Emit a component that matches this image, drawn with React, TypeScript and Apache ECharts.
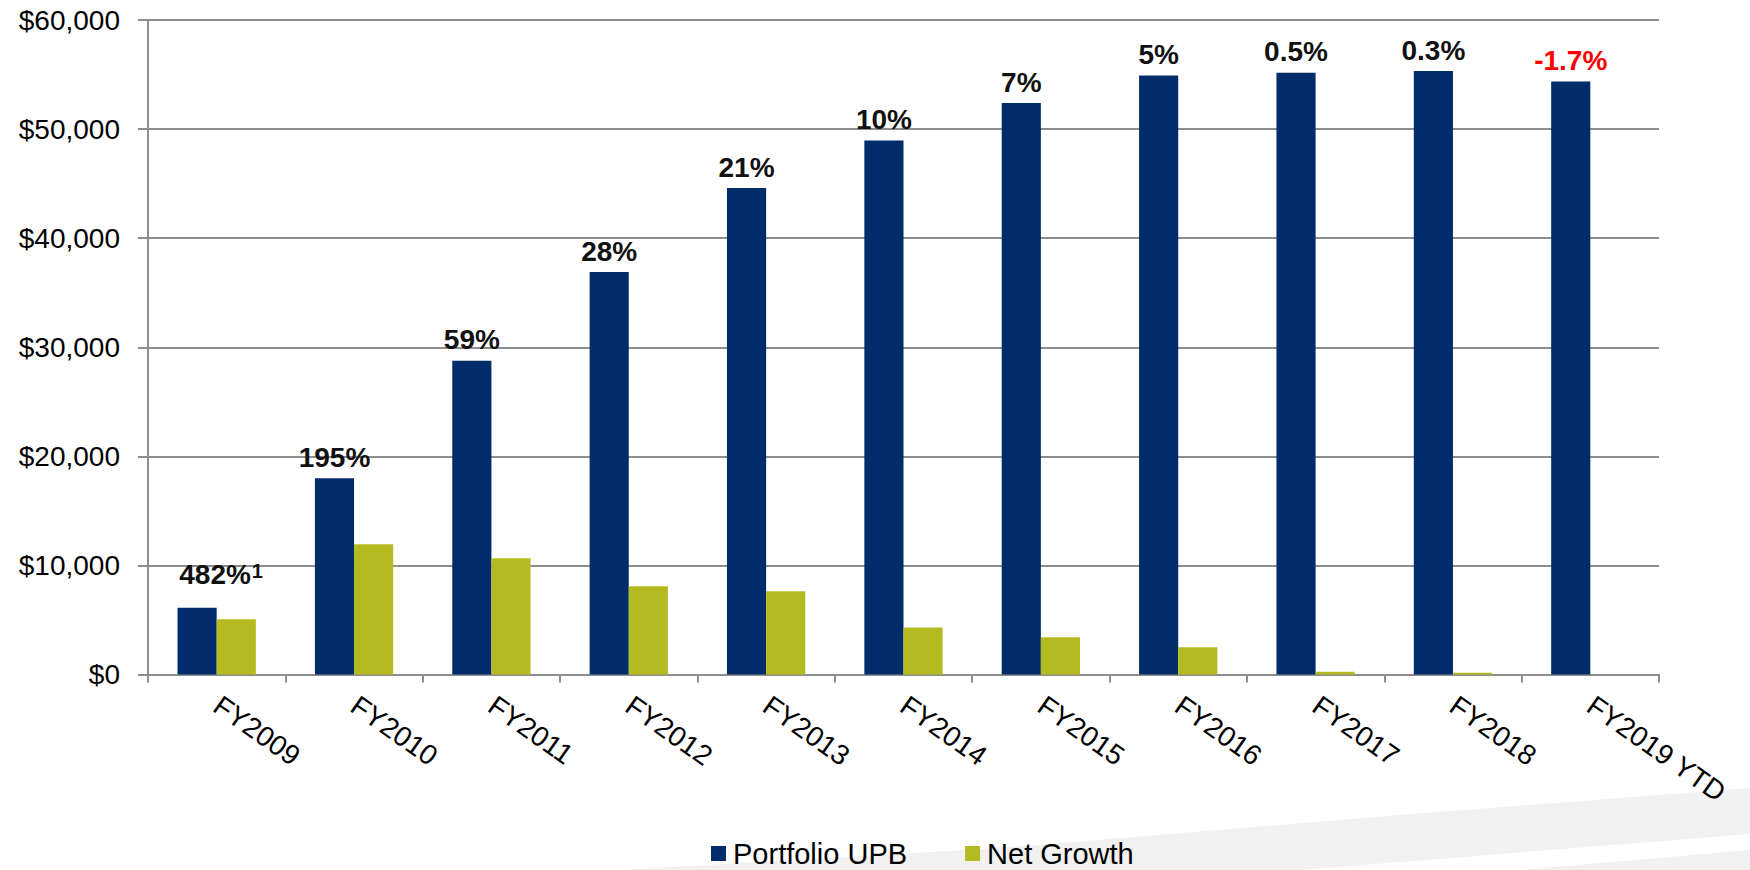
import React, { useEffect, useRef } from "react";
import * as echarts from "echarts";

const categories = [
  "FY2009", "FY2010", "FY2011", "FY2012", "FY2013", "FY2014",
  "FY2015", "FY2016", "FY2017", "FY2018", "FY2019 YTD",
];
const portfolioUPB = [6120, 18000, 28760, 36890, 44590, 48960, 52380, 54920, 55160, 55320, 54370];
const netGrowth = [5060, 11930, 10650, 8090, 7640, 4310, 3420, 2490, 250, 150, -140];
const growthLabels = ["482%", "195%", "59%", "28%", "21%", "10%", "7%", "5%", "0.5%", "0.3%", "-1.7%"];
const growthFootnotes = ["1", "", "", "", "", "", "", "", "", "", ""];
const yMin = 0;
const yMax = 60000;
const yStep = 10000;

const NAVY = "#002D6A";
const OLIVE = "#B3BB21";
const GRID = "#8E8E8E";
const FONT = "'Liberation Sans', Arial, sans-serif";

export default function App() {
  const ref = useRef<HTMLDivElement>(null);

  useEffect(() => {
    document.body.style.margin = "0";
    if (!ref.current) return;
    const chart = echarts.init(ref.current, undefined, { renderer: "svg" });

    const upbData = portfolioUPB.map((v, i) => {
      const neg = growthLabels[i].startsWith("-");
      const color = neg ? "#FF0000" : "#111111";
      const note = growthFootnotes[i];
      const item: any = {
        value: v,
        label: {
          formatter: note ? `{m|${growthLabels[i]}}{s|${note}}` : `{m|${growthLabels[i]}}`,
          rich: {
            m: { fontSize: 28, fontWeight: "bold", color, fontFamily: FONT },
            s: { fontSize: 20, fontWeight: "bold", color, fontFamily: FONT, verticalAlign: "top", padding: [0, 0, 8, 1] },
          },
        },
      };
      if (i === 0) item.label.offset = [24, -12];
      return item;
    });

    chart.setOption({
      animation: false,
      backgroundColor: "#ffffff",
      textStyle: { fontFamily: FONT },
      graphic: [
        {
          type: "polygon",
          z: -10,
          silent: true,
          shape: { points: [[620, 870], [1000, 848], [1400, 815], [1750, 788], [1750, 870]] },
          style: { fill: "#F1F1F1" },
        },
        {
          type: "polygon",
          z: -9,
          silent: true,
          shape: { points: [[1300, 870], [1750, 834], [1750, 850], [1520, 870]] },
          style: { fill: "#FFFFFF" },
        },
      ],
      grid: { left: 148, right: 91, top: 20, bottom: 195.5, containLabel: false },
      legend: {
        left: 706,
        top: 834,
        itemWidth: 15,
        itemHeight: 15,
        itemGap: 58,
        icon: "rect",
        textStyle: { fontSize: 29, color: "#000000", fontFamily: FONT, padding: [0, 0, 0, 2] },
        data: ["Portfolio UPB", "Net Growth"],
      },
      xAxis: {
        type: "category",
        data: categories,
        axisLine: { show: true, lineStyle: { color: GRID, width: 2 } },
        axisTick: { show: true, length: 8, lineStyle: { color: GRID, width: 2 } },
        axisLabel: {
          rotate: -35,
          fontSize: 28,
          color: "#000000",
          margin: 28,
          fontFamily: FONT,
          interval: 0,
        },
      },
      yAxis: {
        type: "value",
        min: yMin,
        max: yMax,
        interval: yStep,
        axisLine: { show: true, lineStyle: { color: GRID, width: 2 } },
        axisTick: { show: true, length: 10, lineStyle: { color: GRID, width: 2 } },
        splitLine: { show: true, lineStyle: { color: GRID, width: 2 } },
        axisLabel: {
          fontSize: 28,
          color: "#000000",
          margin: 28,
          fontFamily: FONT,
          formatter: (v: number) => "$" + v.toLocaleString("en-US"),
        },
      },
      series: [
        {
          name: "Portfolio UPB",
          type: "bar",
          data: upbData,
          barGap: "0%",
          barCategoryGap: "43%",
          itemStyle: { color: NAVY },
          label: {
            show: true,
            position: "top",
            distance: 7,
          },
        },
        {
          name: "Net Growth",
          type: "bar",
          data: netGrowth,
          barGap: "0%",
          barCategoryGap: "43%",
          itemStyle: { color: OLIVE },
        },
      ],
    });

    return () => chart.dispose();
  }, []);

  return <div ref={ref} style={{ width: 1750, height: 870 }} />;
}
